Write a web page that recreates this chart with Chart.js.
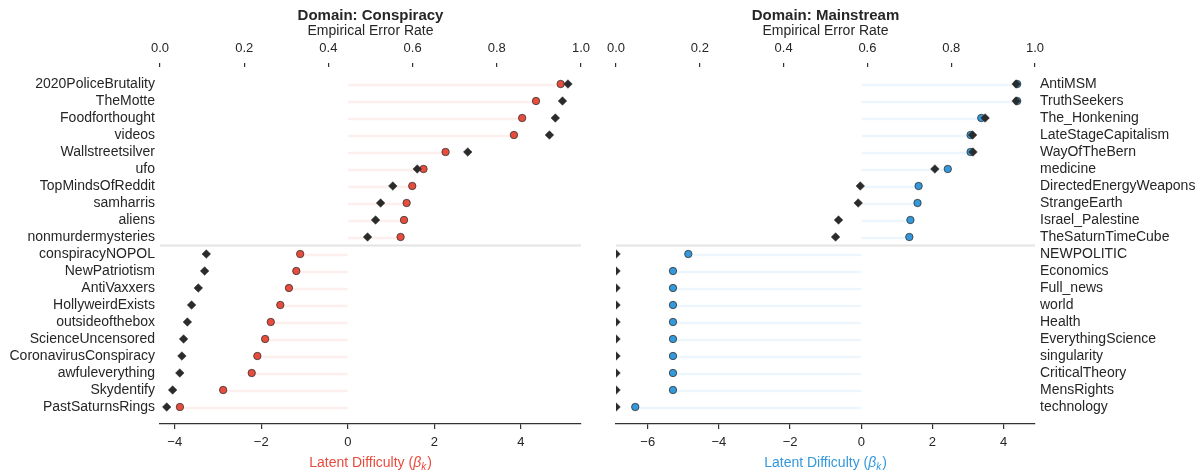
<!DOCTYPE html>
<html><head><meta charset="utf-8">
<script src="https://cdn.jsdelivr.net/npm/chart.js@4.4.1/dist/chart.umd.min.js"></script>
<style>
html,body{margin:0;padding:0;background:#fff;}
#wrap{position:relative;width:1203px;height:475px;overflow:hidden;}
canvas{position:absolute;top:0;}
</style></head><body>
<div id="wrap">
<canvas id="c1" width="600" height="475" style="left:0"></canvas>
<canvas id="c2" width="603" height="475" style="left:600px"></canvas>
</div>
<script>
// ---- data ----
const conspiracyLabels = ["2020PoliceBrutality","TheMotte","Foodforthought","videos","Wallstreetsilver","ufo","TopMindsOfReddit","samharris","aliens","nonmurdermysteries","conspiracyNOPOL","NewPatriotism","AntiVaxxers","HollyweirdExists","outsideofthebox","ScienceUncensored","CoronavirusConspiracy","awfuleverything","Skydentify","PastSaturnsRings"];
const conspiracyLatent = [4.92,4.35,4.03,3.84,2.26,1.75,1.49,1.36,1.30,1.22,-1.10,-1.19,-1.36,-1.56,-1.78,-1.91,-2.09,-2.22,-2.88,-3.88];
const conspiracyError = [0.969,0.956,0.939,0.925,0.731,0.611,0.553,0.524,0.512,0.493,0.110,0.106,0.091,0.075,0.065,0.056,0.052,0.047,0.030,0.016];

const mainstreamLabels = ["AntiMSM","TruthSeekers","The_Honkening","LateStageCapitalism","WayOfTheBern","medicine","DirectedEnergyWeapons","StrangeEarth","Israel_Palestine","TheSaturnTimeCube","NEWPOLITIC","Economics","Full_news","world","Health","EverythingScience","singularity","CriticalTheory","MensRights","technology"];
const mainstreamLatent = [4.38,4.38,3.37,3.07,3.07,2.43,1.61,1.58,1.38,1.35,-4.86,-5.29,-5.29,-5.29,-5.29,-5.29,-5.29,-5.29,-5.29,-6.35];
const mainstreamError = [0.955,0.955,0.881,0.851,0.852,0.761,0.583,0.578,0.531,0.524,0.0,0.0,0.0,0.0,0.0,0.0,0.0,0.0,0.0,0.0];

const errorTicks = [0.0,0.2,0.4,0.6,0.8,1.0];
const conspiracyLatentTicks = [-4,-2,0,2,4];
const mainstreamLatentTicks = [-6,-4,-2,0,2,4];
const conspiracyLatentRange = [-4.34, 5.39];
const mainstreamLatentRange = [-6.89, 4.88];
const groupSplit = 9.5;

// ---- chart ----
Chart.defaults.font.family = '"Liberation Sans", Arial, Helvetica, sans-serif';
Chart.defaults.color = '#262626';
const FONT = '"Liberation Sans", Arial, Helvetica, sans-serif';
const fmt = v => v < 0 ? '\u2212' + Math.abs(v) : String(v);

const annotPlugin = {
  id: 'annot',
  beforeDatasetsDraw(chart, args, o) {
    const {ctx, chartArea} = chart;
    const y = chart.scales.y.getPixelForValue(o.split);
    ctx.save();
    ctx.strokeStyle = '#e4e4e4';
    ctx.lineWidth = 2;
    ctx.beginPath();
    ctx.moveTo(chartArea.left, y);
    ctx.lineTo(chartArea.right, y);
    ctx.stroke();
    ctx.restore();
  },
  afterDraw(chart, args, o) {
    const {ctx, chartArea} = chart;
    const cx = (chartArea.left + chartArea.right) / 2;
    ctx.save();
    ctx.fillStyle = '#262626';
    ctx.textAlign = 'center';
    ctx.textBaseline = 'middle';
    ctx.font = 'bold 15px ' + FONT;
    ctx.fillText(o.title, cx, 16);
    // latent axis title with italic beta and subscript k
    const p1 = 'Latent Difficulty (', p2 = '\u03B2', p3 = 'k', p4 = ')';
    const fN = '14px ' + FONT, fI = 'italic 14px ' + FONT, fS = 'italic 10px ' + FONT;
    ctx.font = fN; const w1 = ctx.measureText(p1).width, w4 = ctx.measureText(p4).width;
    ctx.font = fI; const w2 = ctx.measureText(p2).width;
    ctx.font = fS; const w3 = ctx.measureText(p3).width;
    const total = w1 + w2 + w3 + w4 + 1;
    let x = cx - total / 2;
    const base = chartArea.bottom + 43;
    ctx.textAlign = 'left';
    ctx.textBaseline = 'alphabetic';
    ctx.fillStyle = o.color;
    ctx.font = fN; ctx.fillText(p1, x, base); x += w1;
    ctx.font = fI; ctx.fillText(p2, x, base); x += w2;
    ctx.font = fS; ctx.fillText(p3, x, base + 3); x += w3 + 1;
    ctx.font = fN; ctx.fillText(p4, x, base);
    ctx.restore();
  }
};

function makeChart(id, cfg) {
  const n = cfg.labels.length;
  const idx = cfg.labels.map((_, i) => i);
  return new Chart(document.getElementById(id), {
    type: 'scatter',
    data: {
      datasets: [
        {
          label: 'Empirical error',
          data: cfg.error.map((v, i) => ({x: v, y: i})),
          xAxisID: 'x2', yAxisID: 'y',
          pointStyle: 'rectRot', pointRadius: 4.3,
          backgroundColor: '#2b2b2b', borderColor: '#2b2b2b', borderWidth: 0.5,
          clip: 0, order: 1
        },
        {
          label: 'Latent difficulty',
          data: cfg.latent.map((v, i) => ({x: v, y: i})),
          xAxisID: 'x', yAxisID: 'y',
          pointStyle: 'circle', pointRadius: 3.7,
          backgroundColor: cfg.color, borderColor: '#333', borderWidth: 0.8,
          clip: 0, order: 2
        },
        {
          type: 'bar', indexAxis: 'y',
          label: 'stem',
          data: cfg.latent.map((v, i) => ({y: i, x: [0, v]})),
          xAxisID: 'x', yAxisID: 'y',
          backgroundColor: cfg.stem, borderWidth: 0, barThickness: 2,
          order: 3
        }
      ]
    },
    options: {
      responsive: false, animation: false, events: [],
      layout: {padding: cfg.padding, autoPadding: false},
      plugins: {
        legend: {display: false}, tooltip: {enabled: false},
        annot: {title: cfg.title, color: cfg.color, split: groupSplit}
      },
      scales: {
        x: {
          type: 'linear', position: 'bottom', offset: false,
          min: cfg.range[0], max: cfg.range[1],
          afterBuildTicks: s => { s.ticks = cfg.latentTicks.map(v => ({value: v})); },
          afterFit: s => { s.height = 51; },
          border: {display: true, color: '#333', width: 1.2},
          grid: {drawOnChartArea: false, drawTicks: true, tickLength: 5, color: '#333', lineWidth: 1.2, offset: false},
          ticks: {padding: 6, font: {size: 13}, color: '#262626', callback: v => fmt(v), maxRotation: 0}
        },
        x2: {
          type: 'linear', position: 'top', min: 0, max: 1, offset: false,
          afterBuildTicks: s => { s.ticks = errorTicks.map(v => ({value: v})); },
          afterFit: s => { s.height = 67; },
          border: {display: false},
          grid: {drawOnChartArea: false, drawTicks: true, tickLength: 4, color: '#333', lineWidth: 1.2, offset: false},
          ticks: {padding: 7, font: {size: 13}, color: '#262626', callback: v => v.toFixed(1), maxRotation: 0},
          title: {display: true, text: 'Empirical Error Rate', font: {size: 14}, color: '#262626', padding: {top: 23, bottom: 0}}
        },
        y: {
          type: 'linear', position: cfg.yPos, reverse: true, min: -1, max: n, offset: false,
          afterBuildTicks: s => { s.ticks = idx.map(v => ({value: v})); },
          afterFit: s => { s.width = cfg.yWidth; s.paddingTop = 0; s.paddingBottom = 0; },
          border: {display: false},
          grid: {display: false, drawTicks: false, offset: false},
          ticks: {padding: 5, font: {size: 14}, color: '#262626', autoSkip: false,
                  callback: v => cfg.labels[v] ?? ''}
        }
      }
    },
    plugins: [annotPlugin]
  });
}

makeChart('c1', {
  labels: conspiracyLabels, latent: conspiracyLatent, error: conspiracyError,
  latentTicks: conspiracyLatentTicks, range: conspiracyLatentRange,
  color: '#e74c3c', stem: 'rgba(231,76,60,0.09)', title: 'Domain: Conspiracy',
  yPos: 'left', yWidth: 160, padding: {left: 0, right: 19, top: 0, bottom: 0}
});
makeChart('c2', {
  labels: mainstreamLabels, latent: mainstreamLatent, error: mainstreamError,
  latentTicks: mainstreamLatentTicks, range: mainstreamLatentRange,
  color: '#3498db', stem: 'rgba(52,152,219,0.09)', title: 'Domain: Mainstream',
  yPos: 'right', yWidth: 168, padding: {left: 15, right: 0, top: 0, bottom: 0}
});
</script>
</body></html>
